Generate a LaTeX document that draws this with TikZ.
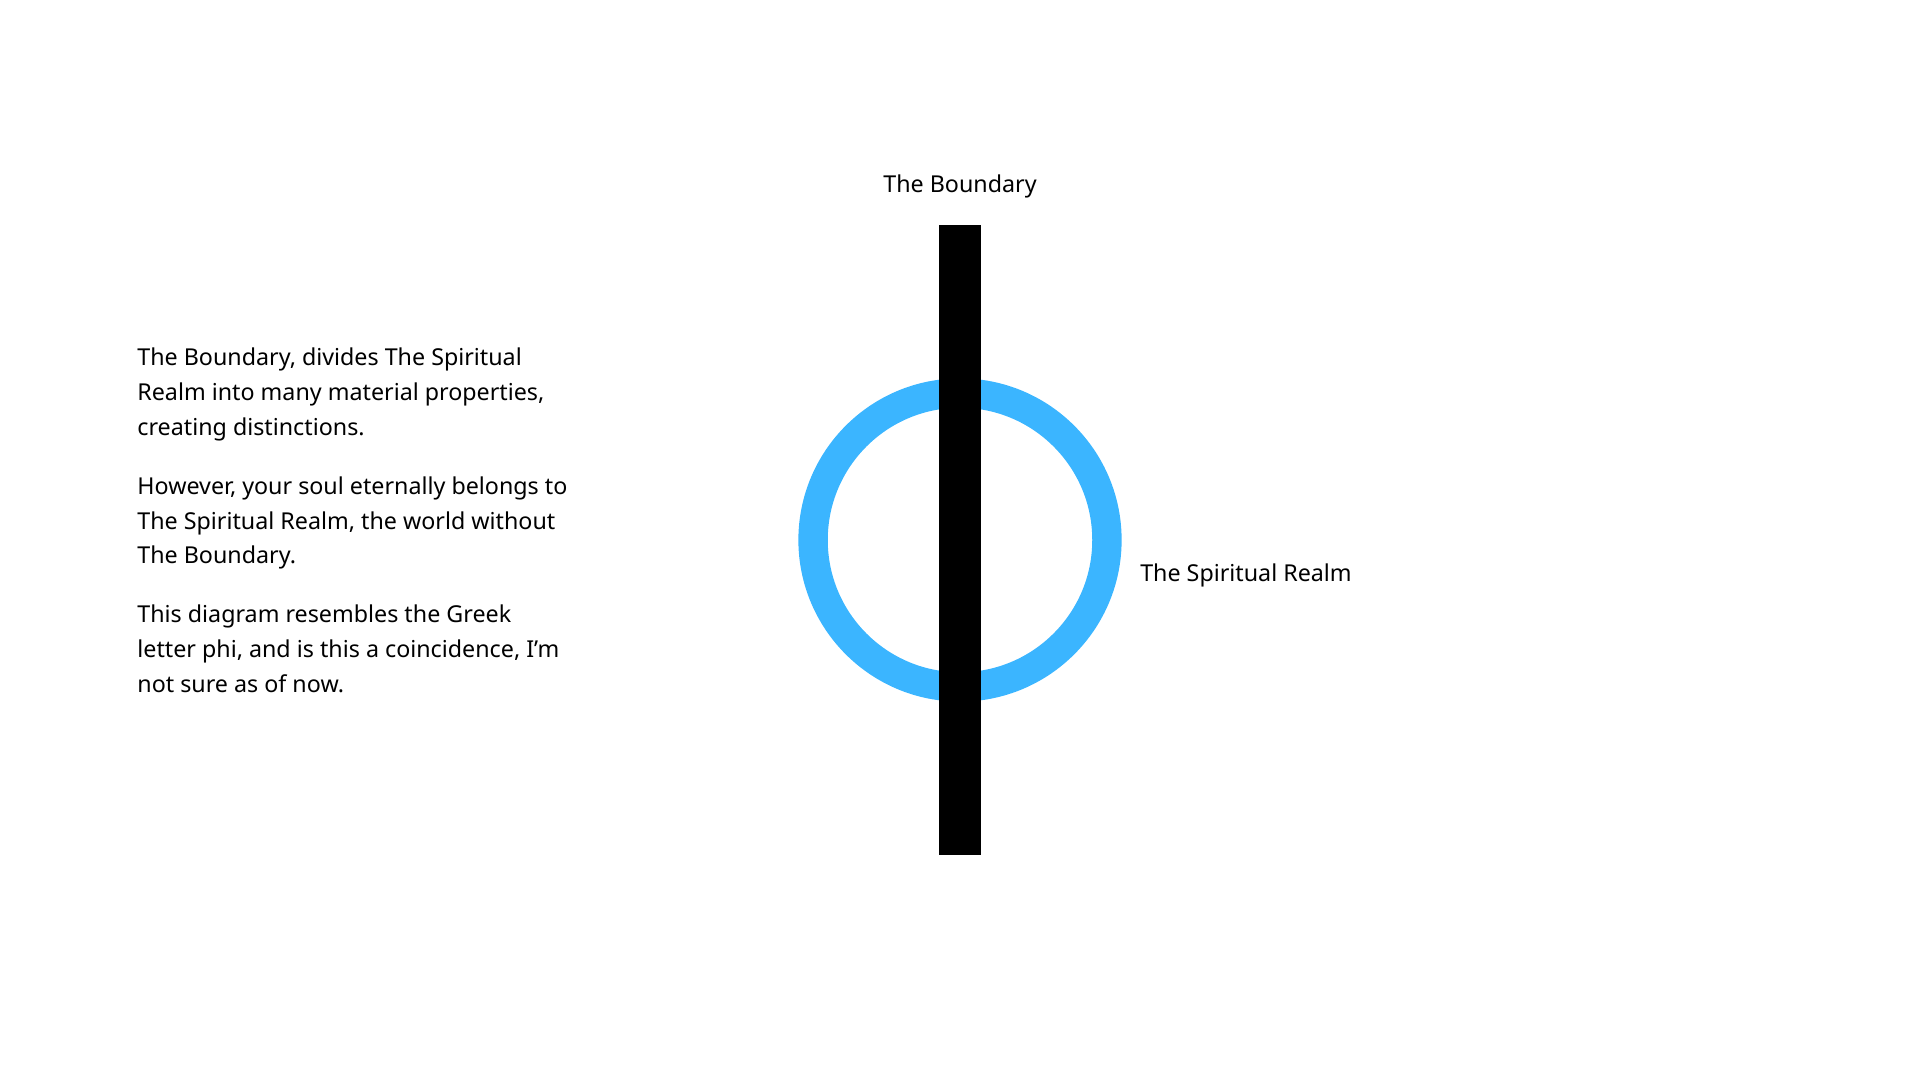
\documentclass[tikz,border=0pt]{standalone}
\usepackage{fontspec}
\setmainfont{Noto Sans}
\usetikzlibrary{positioning}
\definecolor{realmblue}{HTML}{3BB5FF}
\tikzset{
  para/.style={anchor=north west, align=left, inner sep=0pt,
    font=\fontsize{19}{28.5}\selectfont},
  caption/.style={inner sep=0pt, font=\fontsize{19}{28.5}\selectfont}
}
\begin{document}
\begin{tikzpicture}[x=1pt,y=-1pt]
    \useasboundingbox (0,0) rectangle (1568,882);

    \node [draw=realmblue, line width=24pt, circle, minimum size=240pt, inner sep=0pt] (Realm) at (784,441) {};
    \node [fill=black, minimum width=34pt, minimum height=514pt, inner sep=0pt] (Boundary) at (784,441) {};

    \node [caption, above=22pt of Boundary] (BoundaryLabel) {The Boundary};
    \node [caption, anchor=west] (RealmLabel) at (931,470) {The Spiritual Realm};

    \node [para] (First) at (112,284) {\textbf{The Boundary}, divides \textbf{The Spiritual}\\
        \textbf{Realm} into many material properties,\\
        creating distinctions.};
    \node [para, below=28.5pt of First.south west, anchor=north west] (Second) {However, your soul eternally belongs to\\
        \textbf{The Spiritual Realm}, the world without\\
        \textbf{The Boundary}.};
    \node [para, below=28.5pt of Second.south west, anchor=north west] (Third) {This diagram resembles the \textbf{Greek}\\
        \textbf{letter phi}, and is this a coincidence, I’m\\
        not sure as of now.};
\end{tikzpicture}
\end{document}
